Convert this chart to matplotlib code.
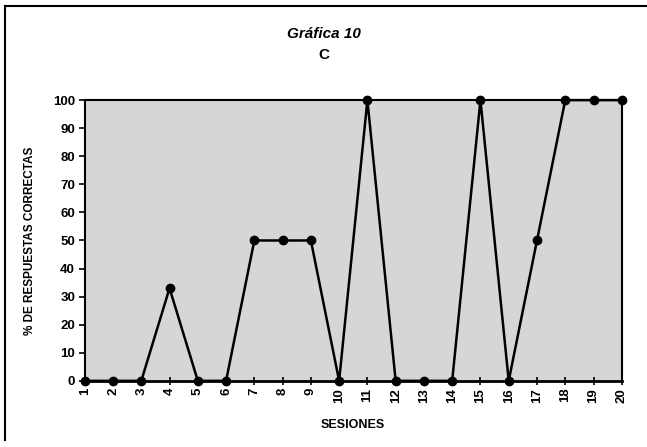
import matplotlib.pyplot as plt
from matplotlib.lines import Line2D

plt.rcParams['font.family'] = ['Liberation Sans', 'DejaVu Sans']

sesiones = list(range(1, 21))
porcentaje = [0, 0, 0, 33, 0, 0, 50, 50, 50, 0, 100, 0, 0, 0, 100, 0, 50, 100, 100, 100]
y_ticks = list(range(0, 101, 10))

fig = plt.figure(figsize=(6.47, 4.47), dpi=100)
ax = fig.add_axes([0.131, 0.148, 0.83, 0.628])
ax.set_facecolor('#d6d6d6')

ax.plot(sesiones, porcentaje, color='black', lw=1.8, marker='o', ms=6,
        clip_on=False, zorder=5)

ax.set_xlim(1, 20)
ax.set_ylim(0, 100)
ax.set_xticks(sesiones)
ax.set_xticklabels([str(s) for s in sesiones], rotation=90, fontsize=9.5, fontweight='bold')
ax.set_yticks(y_ticks)
ax.set_yticklabels([str(t) for t in y_ticks], fontsize=9.5, fontweight='bold')
ax.tick_params(axis='x', direction='inout', length=6, width=1.2, pad=2)
ax.tick_params(axis='y', direction='out', length=4, width=1.2, pad=3)
for s in ax.spines.values():
    s.set_linewidth(1.5)
ax.spines['bottom'].set_linewidth(2)

ax.set_xlabel('SESIONES', fontsize=9, fontweight='bold', labelpad=12)
ax.set_ylabel('% DE RESPUESTAS CORRECTAS', fontsize=8.5, fontweight='bold', labelpad=12)

fig.text(0.5, 0.925, 'Gráfica 10', ha='center', va='center', fontsize=11,
         fontweight='bold', fontstyle='italic')
fig.text(0.5, 0.877, 'C', ha='center', va='center', fontsize=11, fontweight='bold')

# outer frame (left and top edges visible)
fig.add_artist(Line2D([0.008, 0.008], [0.015, 0.986], color='black', lw=1.5))
fig.add_artist(Line2D([0.008, 1.0], [0.986, 0.986], color='black', lw=1.5))

fig.savefig('out.png', dpi=100)
